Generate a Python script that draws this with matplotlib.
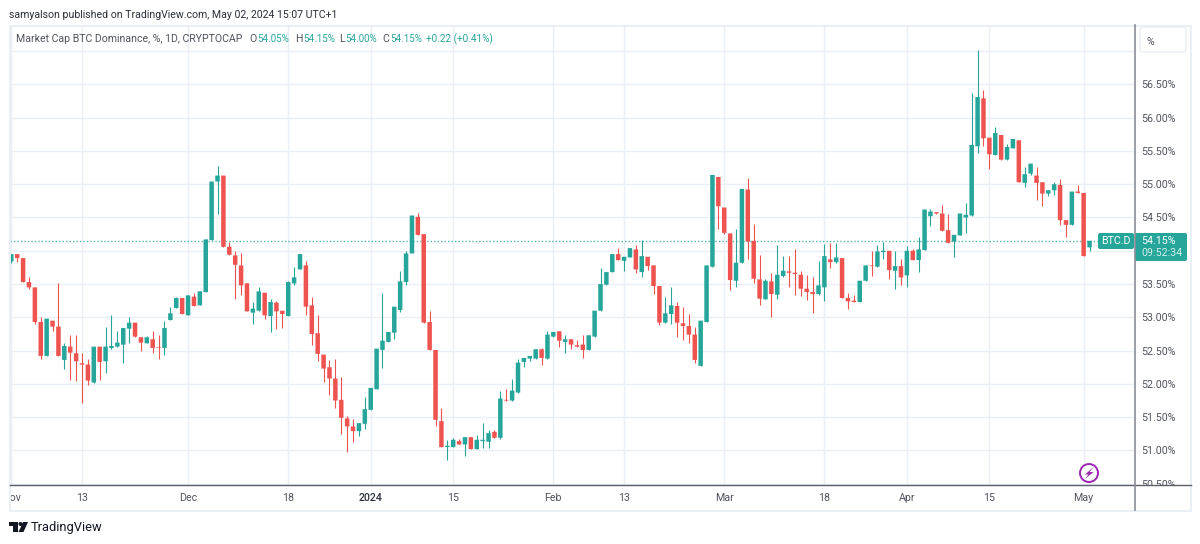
import matplotlib

matplotlib.use("Agg")
import matplotlib.pyplot as plt
from matplotlib.patches import Circle, FancyBboxPatch, Polygon, Rectangle
from matplotlib.transforms import Bbox

W, H = 1200, 544

# daily BTC.D candles, 2023-11-01 onwards
opens = [
    53.84, 53.95, 53.89, 53.53, 53.45, 52.93, 52.42, 52.95, 52.86, 52.36,
    52.56, 52.46, 52.31, 52.29, 52.02, 52.56, 52.34, 52.54, 52.56, 52.59,
    52.83, 52.92, 52.70, 52.61, 52.67, 52.55, 52.54, 52.96, 53.14, 53.29,
    53.03, 53.31, 53.18, 53.38, 54.16, 55.04, 55.13, 54.06, 53.93, 53.78,
    53.51, 53.07, 53.10, 53.37, 53.02, 53.22, 53.10, 53.02, 53.51, 53.72,
    53.78, 53.18, 52.76, 52.44, 52.25, 52.08, 51.76, 51.48, 51.36, 51.29,
    51.40, 51.61, 51.92, 52.51, 52.63, 52.77, 53.11, 53.53, 53.96, 54.51,
    54.25, 52.93, 52.51, 51.44, 51.05, 51.05, 51.14, 51.09, 51.20, 51.02,
    51.14, 51.13, 51.28, 51.19, 51.76, 51.75, 51.87, 52.33, 52.38, 52.38,
    52.52, 52.38, 52.71, 52.79, 52.63, 52.67, 52.58, 52.59, 52.51, 52.71,
    53.10, 53.49, 53.68, 53.95, 53.85, 53.90, 54.02, 53.68, 53.91, 53.78,
    53.47, 52.92, 53.05, 53.17, 52.91, 52.87, 52.74, 52.27, 52.93, 53.76,
    55.11, 54.65, 54.26, 53.55, 53.82, 54.92, 54.15, 53.57, 53.27, 53.54,
    53.34, 53.62, 53.69, 53.67, 53.64, 53.43, 53.38, 53.35, 53.45, 53.87,
    53.83, 53.89, 53.29, 53.25, 53.23, 53.55, 53.78, 53.76, 53.98, 54.00,
    53.70, 53.77, 53.63, 54.00, 53.86, 54.01, 54.52, 54.58, 54.56, 54.31,
    54.14, 54.23, 54.50, 54.53, 55.57, 56.29, 55.70, 55.44, 55.74, 55.37,
    55.54, 55.66, 55.02, 55.16, 55.13, 55.03, 54.86, 54.91, 54.99, 54.46,
    54.39, 54.89, 54.87, 54.05,
]
highs = [
    53.95, 53.95, 53.89, 53.60, 53.45, 53.00, 52.98, 52.95, 53.51, 52.62,
    52.74, 52.74, 52.47, 52.38, 52.56, 52.56, 52.85, 53.04, 52.80, 52.84,
    53.01, 52.92, 52.70, 52.72, 52.79, 52.74, 52.95, 53.16, 53.30, 53.29,
    53.33, 53.37, 53.39, 54.17, 55.04, 55.27, 55.13, 54.13, 53.99, 53.96,
    53.51, 53.23, 53.45, 53.37, 53.27, 53.25, 53.10, 53.55, 53.76, 53.95,
    53.84, 53.30, 53.04, 52.44, 52.36, 52.38, 52.11, 51.51, 51.47, 51.41,
    51.80, 51.94, 52.53, 53.37, 52.78, 53.16, 53.69, 54.00, 54.53, 54.57,
    54.25, 53.09, 52.51, 51.63, 51.15, 51.18, 51.17, 51.20, 51.20, 51.23,
    51.41, 51.30, 51.31, 51.90, 51.93, 52.08, 52.38, 52.39, 52.42, 52.52,
    52.54, 52.80, 52.78, 52.79, 52.73, 52.67, 52.66, 52.73, 52.73, 53.10,
    53.74, 53.68, 53.95, 54.04, 53.91, 54.04, 54.09, 54.16, 53.91, 53.78,
    53.47, 53.30, 53.46, 53.23, 53.15, 53.05, 52.86, 52.95, 53.78, 55.14,
    55.11, 54.65, 54.26, 54.33, 54.93, 55.09, 54.40, 53.93, 53.58, 53.67,
    54.08, 53.92, 53.92, 54.03, 53.70, 53.64, 53.61, 53.85, 54.10, 54.12,
    54.12, 53.89, 53.37, 53.34, 53.55, 53.78, 53.99, 54.09, 54.13, 54.00,
    53.99, 53.87, 54.07, 54.02, 54.20, 54.62, 54.63, 54.59, 54.69, 54.56,
    54.24, 54.56, 54.72, 56.37, 57.02, 56.42, 55.70, 55.86, 55.74, 55.61,
    55.68, 55.66, 55.26, 55.31, 55.26, 55.03, 54.91, 55.04, 55.08, 54.46,
    54.89, 54.99, 54.87, 54.15,
]
lows = [
    53.81, 53.83, 53.53, 53.42, 52.90, 52.37, 52.42, 52.80, 52.42, 52.22,
    52.06, 52.05, 51.72, 51.99, 52.02, 52.06, 52.17, 52.52, 52.56, 52.31,
    52.61, 52.71, 52.49, 52.61, 52.47, 52.38, 52.44, 52.96, 53.14, 53.05,
    53.03, 53.17, 53.18, 53.38, 54.16, 54.56, 54.06, 53.94, 53.27, 53.34,
    53.09, 52.90, 53.10, 52.97, 52.78, 52.82, 52.84, 53.02, 53.49, 53.72,
    53.03, 52.59, 52.34, 52.03, 51.84, 51.63, 51.25, 50.97, 51.13, 51.21,
    51.32, 51.61, 51.92, 52.24, 52.63, 52.68, 53.08, 53.48, 53.96, 54.24,
    52.92, 52.51, 51.36, 51.05, 50.85, 51.05, 51.09, 50.92, 51.02, 51.02,
    51.04, 51.04, 51.19, 51.17, 51.75, 51.74, 51.87, 52.25, 52.34, 52.38,
    52.28, 52.38, 52.71, 52.56, 52.46, 52.52, 52.56, 52.39, 52.51, 52.71,
    53.10, 53.49, 53.68, 53.86, 53.70, 53.90, 53.67, 53.60, 53.71, 53.35,
    52.88, 52.92, 52.90, 52.70, 52.66, 52.61, 52.31, 52.27, 52.93, 53.76,
    54.32, 54.25, 53.41, 53.46, 53.82, 53.87, 53.51, 53.19, 53.27, 53.00,
    53.27, 53.61, 53.45, 53.33, 53.32, 53.26, 53.07, 53.33, 53.24, 53.74,
    53.81, 53.29, 53.13, 53.23, 53.23, 53.55, 53.62, 53.76, 53.87, 53.57,
    53.43, 53.49, 53.46, 53.86, 53.68, 54.01, 54.37, 54.56, 54.29, 54.12,
    53.91, 54.23, 54.26, 54.53, 55.47, 55.57, 55.23, 55.44, 55.37, 55.37,
    55.54, 55.03, 54.96, 55.14, 54.76, 54.67, 54.83, 54.84, 54.39, 54.20,
    54.39, 54.87, 53.92, 54.00,
]
closes = [
    53.95, 53.89, 53.53, 53.45, 52.93, 52.42, 52.98, 52.86, 52.42, 52.57,
    52.47, 52.34, 52.29, 52.05, 52.56, 52.33, 52.56, 52.57, 52.62, 52.84,
    52.92, 52.71, 52.62, 52.70, 52.54, 52.54, 52.84, 53.06, 53.29, 53.05,
    53.33, 53.17, 53.39, 54.17, 55.04, 55.13, 54.06, 53.94, 53.79, 53.48,
    53.09, 53.13, 53.39, 53.03, 53.23, 53.09, 53.05, 53.53, 53.60, 53.95,
    53.16, 52.75, 52.45, 52.23, 52.08, 51.75, 51.49, 51.36, 51.29, 51.41,
    51.62, 51.94, 52.53, 52.65, 52.78, 53.16, 53.54, 53.96, 54.53, 54.24,
    52.92, 52.51, 51.46, 51.05, 51.07, 51.16, 51.09, 51.20, 51.02, 51.16,
    51.16, 51.26, 51.19, 51.78, 51.75, 51.90, 52.32, 52.39, 52.42, 52.52,
    52.39, 52.74, 52.78, 52.65, 52.67, 52.59, 52.56, 52.51, 52.73, 53.10,
    53.50, 53.68, 53.95, 53.86, 53.91, 54.04, 53.72, 53.92, 53.77, 53.47,
    52.92, 53.06, 53.18, 52.92, 52.87, 52.74, 52.36, 52.95, 53.78, 55.14,
    54.67, 54.27, 53.56, 53.82, 54.93, 54.14, 53.58, 53.28, 53.55, 53.35,
    53.64, 53.70, 53.67, 53.65, 53.43, 53.38, 53.35, 53.48, 53.92, 53.83,
    53.90, 53.29, 53.24, 53.23, 53.55, 53.78, 53.77, 53.99, 54.00, 53.71,
    53.77, 53.60, 54.00, 53.86, 54.02, 54.62, 54.59, 54.56, 54.30, 54.12,
    54.24, 54.56, 54.54, 55.59, 56.31, 55.69, 55.45, 55.77, 55.37, 55.56,
    55.68, 55.03, 55.15, 55.31, 55.02, 54.86, 54.91, 55.00, 54.46, 54.39,
    54.89, 54.87, 53.92, 54.15,
]

# candle index of each time label, index 0 is Nov 1
time_ticks = [0, 12, 30, 47, 61, 75, 92, 104, 121, 138, 152, 166, 182]
time_labels = ["Nov", "13", "Dec", "18", "2024", "15", "Feb", "13", "Mar", "18", "Apr", "15", "May"]

# 54.00% sits under the price tag and 57.00% under the % button
price_ticks = [50.5, 51.0, 51.5, 52.0, 52.5, 53.0, 53.5, 54.0, 54.5, 55.0, 55.5, 56.0, 56.5, 57.0]
price_labels = ["50.50%", "51.00%", "51.50%", "52.00%", "52.50%", "53.00%", "53.50%",
                "", "54.50%", "55.00%", "55.50%", "56.00%", "56.50%", ""]

last_price = closes[-1]

UP = "#26a69a"
DOWN = "#ef5350"
GRID = "#e9eff5"
TEXT = "#50535e"
SIZE = 7.7
HEAD = 7.55

plt.rcParams["font.family"] = "Roboto"

fig = plt.figure(figsize=(W / 100, H / 100), dpi=100, facecolor="white")

# plot pane, sized in pixels
left, right, top, bottom = 10, 1135, 26, 485
ax = fig.add_axes([left / W, 1 - bottom / H, (right - left) / W, (bottom - top) / H])
ax.set_xlim((left - 11.3) / 5.892, (right - 11.3) / 5.892)
ax.set_ylim(56.5 - (bottom - 84.4) / 66.55, 56.5 - (top - 84.4) / 66.55)
for s in ax.spines.values():
    s.set_visible(False)
ax.grid(True, color=GRID, lw=1.0, zorder=0)
ax.set_axisbelow(True)

ax.set_xticks(time_ticks)
ax.set_xticklabels(time_labels, fontsize=SIZE, color=TEXT)
ax.yaxis.tick_right()
ax.set_yticks(price_ticks)
ax.set_yticklabels(price_labels, fontsize=SIZE, color=TEXT, ha="left")
ax.tick_params(axis="x", length=0, pad=6)
ax.tick_params(axis="y", length=0, pad=4.5)

# the edge labels get cut by the pane borders
for lab in ax.get_xticklabels():
    lab.set_clip_box(Bbox([[left, 0], [right, H]]))
    lab.set_clip_on(True)
    if lab.get_text() == "2024":
        lab.set_fontweight("medium")
        lab.set_color("#2a2e39")
for lab in ax.get_yticklabels():
    lab.set_clip_box(Bbox([[right, H - bottom], [W, H]]))
    lab.set_clip_on(True)

for i in range(len(closes)):
    col = UP if closes[i] >= opens[i] else DOWN
    ax.vlines(i, lows[i], highs[i], color=col, lw=0.8, zorder=2)
    bars = ax.bar(i, abs(closes[i] - opens[i]), bottom=min(opens[i], closes[i]),
                  width=0.76, color=col, lw=0, zorder=3)
    bars[0].set_snap(False)

ax.axhline(last_price, color=UP, lw=1.0, ls=(0, (1, 1.5)), alpha=0.8, zorder=1)

# frame, header and tags are laid out in pixels on top of the pane
ui = fig.add_axes([0, 0, 1, 1], facecolor="none")
ui.set_xlim(0, W)
ui.set_ylim(H, 0)
ui.axis("off")

ui.add_patch(Rectangle((9.5, 25.5), 1181, 485, fill=False, ec=GRID, lw=1.4))
ui.plot([10, 1191], [485, 485], color="#5d606b", lw=1.0)
ui.plot([1135, 1135], [25, 510], color="#8a8d96", lw=1.2)

ui.add_patch(FancyBboxPatch((1140, 27), 46, 25, boxstyle="round,pad=0,rounding_size=3",
                            fc="white", ec=GRID, lw=1.0))
ui.text(1150, 42, "%", fontsize=SIZE, color=TEXT, ha="center", va="center")

ui.text(9, 14.5, "samyalson published on TradingView.com, May 02, 2024 15:07 UTC+1",
        fontsize=HEAD, color="#2a2e39", va="center")

ui.text(16, 39.5, "Market Cap BTC Dominance, %, 1D, CRYPTOCAP", fontsize=HEAD, color=TEXT, va="center")
for x, letter, val in [(249, "O", "54.05%"), (295, "H", "54.15%"), (339, "L", "54.00%"), (382, "C", "54.15%")]:
    ui.text(x, 39.5, letter, fontsize=HEAD, color=TEXT, va="center")
    ui.text(x + (6 if letter == "L" else 8), 39.5, val, fontsize=7.0, color=UP, va="center")
ui.text(426, 39.5, "+0.22 (+0.41%)", fontsize=7.2, color=UP, va="center")

# symbol and price tags
ui.add_patch(FancyBboxPatch((1098, 233), 36, 16, boxstyle="round,pad=0,rounding_size=2", fc=UP, ec="none"))
ui.text(1115.5, 241, "BTC.D", fontsize=SIZE, color="white", ha="center", va="center")
ui.add_patch(FancyBboxPatch((1135, 233), 52, 28, boxstyle="round,pad=0,rounding_size=2", fc=UP, ec="none"))
ui.text(1141, 240.5, "54.15%", fontsize=SIZE, color="white", va="center")
ui.text(1141, 253.5, "09:52:34", fontsize=SIZE, color="#d5eeeb", va="center")

# lightning badge
ui.add_patch(Circle((1089, 473), 9, fc="white", ec="#9c27b0", lw=1.4))
ui.add_patch(Polygon([(1093.5, 467), (1085, 474.5), (1088.5, 474.5), (1085, 479), (1093.5, 472), (1089.5, 472)],
                     fc="#9c27b0", ec="none"))

# TradingView mark
ui.add_patch(Polygon([(9, 522), (18, 522), (18, 532), (13, 532), (13, 526), (9, 526)], fc="#131722", ec="none"))
ui.add_patch(Circle((20.5, 524), 2, fc="#131722", ec="none"))
ui.add_patch(Polygon([(23, 522), (28, 522), (23.5, 532), (18.5, 532)], fc="#131722", ec="none"))
ui.text(31, 527, "TradingView", fontsize=9.3, color="#131722", va="center")

fig.savefig("out.png", dpi=100)
